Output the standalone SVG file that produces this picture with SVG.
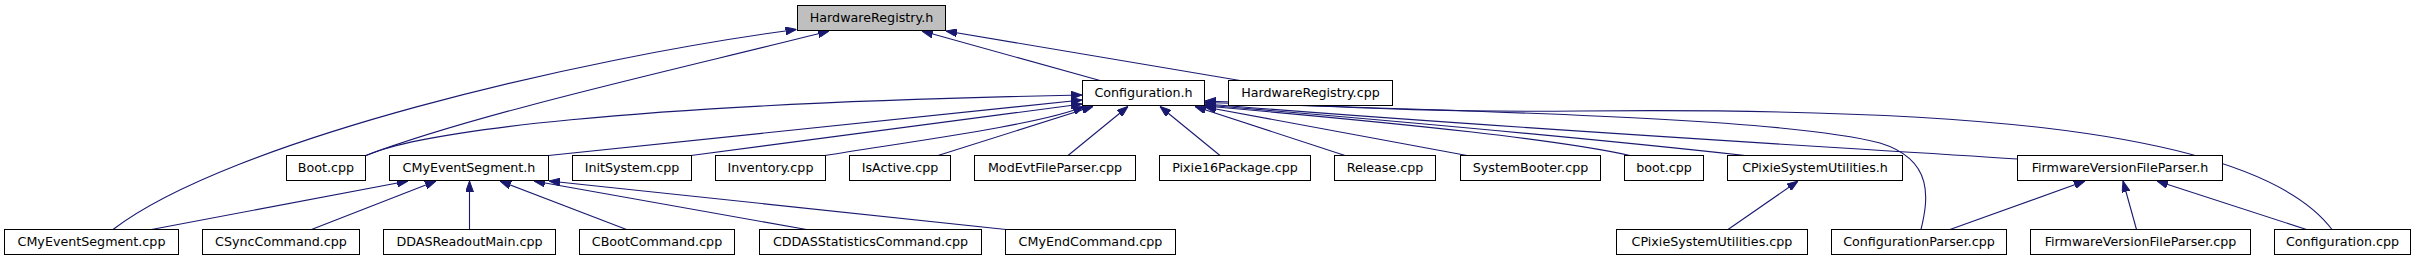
<svg xmlns="http://www.w3.org/2000/svg" width="2416" height="261" viewBox="0 0 2416 261">
<style>
.n rect{fill:#ffffff;stroke:#000000;stroke-width:1}
.n.root rect{fill:#bfbfbf}
.n text{font-family:"DejaVu Sans","Liberation Sans",sans-serif;font-size:12.7px;fill:#000000;text-anchor:middle}
.e path{fill:none;stroke:#191970;stroke-width:1.1;marker-end:url(#ah)}
</style>
<defs>
<marker id="ah" viewBox="0 0 11 8" refX="11" refY="4" markerWidth="11" markerHeight="8" markerUnits="userSpaceOnUse" orient="auto">
<path d="M0,0 L11,4 L0,8 z" fill="#191970" stroke="#191970" stroke-width="1"/>
</marker>
</defs>
<rect x="0" y="0" width="2416" height="261" fill="#ffffff"/>
<g id="edges" class="e">
<path d="M113,229.5 C230,140 580,58 796.5,29.5"/>
<path d="M366,155.5 C480,112 700,64 829,31"/>
<path d="M1100,80.5 L922,31"/>
<path d="M1240,80.5 L946,31"/>
<path d="M366,155.5 C420,132 620,104 1082,95"/>
<path d="M548.5,155.5 L1082,100"/>
<path d="M691,155.5 L1082,104"/>
<path d="M825,155.5 C900,143 1040,125 1084,106.5"/>
<path d="M938,155.5 L1093,106.5"/>
<path d="M1068,155.5 L1128,106.5"/>
<path d="M1220,155.5 L1160,106.5"/>
<path d="M1345,155.5 L1195,106.5"/>
<path d="M1467,155.5 L1205,107"/>
<path d="M1630,155.5 C1560,140 1420,125 1205,106"/>
<path d="M1745,155.5 C1650,145 1480,128 1205,105"/>
<path d="M2017.5,159 C1800,145 1500,128 1205,104"/>
<path d="M1921,229.5 C1928,200 1935,160 1880,143 C1800,122 1600,114 1205,102.5"/>
<path d="M2332,229.5 C2250,120 1900,108 1580,111 C1400,113 1300,104 1205,101"/>
<path d="M151.5,229.5 L408,181"/>
<path d="M311.5,229.5 L436,181"/>
<path d="M469.5,229.5 L469.5,181"/>
<path d="M626.5,229.5 L500,181"/>
<path d="M806.5,229.5 L534,181"/>
<path d="M1006,229.5 L549,181"/>
<path d="M1728,229.5 L1798,181"/>
<path d="M1950,229.5 L2085,181"/>
<path d="M2136.5,229.5 L2123,181"/>
<path d="M2306.5,229.5 L2157,181"/>
</g>
<g id="node0" class="n root"><rect x="797.5" y="5.5" width="148" height="25"/><text x="871.5" y="22.4">HardwareRegistry.h</text></g>
<g id="node1" class="n"><rect x="1082.5" y="80.5" width="122" height="25"/><text x="1143.5" y="97.4">Configuration.h</text></g>
<g id="node2" class="n"><rect x="1228.5" y="80.5" width="164" height="25"/><text x="1310.5" y="97.4">HardwareRegistry.cpp</text></g>
<g id="node3" class="n"><rect x="286.5" y="155.5" width="79" height="25"/><text x="326" y="172.4">Boot.cpp</text></g>
<g id="node4" class="n"><rect x="389.5" y="155.5" width="159" height="25"/><text x="469" y="172.4">CMyEventSegment.h</text></g>
<g id="node5" class="n"><rect x="572.5" y="155.5" width="119" height="25"/><text x="632" y="172.4">InitSystem.cpp</text></g>
<g id="node6" class="n"><rect x="715.5" y="155.5" width="110" height="25"/><text x="770.5" y="172.4">Inventory.cpp</text></g>
<g id="node7" class="n"><rect x="849.5" y="155.5" width="101" height="25"/><text x="900" y="172.4">IsActive.cpp</text></g>
<g id="node8" class="n"><rect x="974.5" y="155.5" width="161" height="25"/><text x="1055" y="172.4">ModEvtFileParser.cpp</text></g>
<g id="node9" class="n"><rect x="1159.5" y="155.5" width="151" height="25"/><text x="1235" y="172.4">Pixie16Package.cpp</text></g>
<g id="node10" class="n"><rect x="1334.5" y="155.5" width="101" height="25"/><text x="1385" y="172.4">Release.cpp</text></g>
<g id="node11" class="n"><rect x="1460.5" y="155.5" width="140" height="25"/><text x="1530.5" y="172.4">SystemBooter.cpp</text></g>
<g id="node12" class="n"><rect x="1624.5" y="155.5" width="79" height="25"/><text x="1664" y="172.4">boot.cpp</text></g>
<g id="node13" class="n"><rect x="1727.5" y="155.5" width="175" height="25"/><text x="1815" y="172.4">CPixieSystemUtilities.h</text></g>
<g id="node14" class="n"><rect x="2017.5" y="155.5" width="205" height="25"/><text x="2120" y="172.4">FirmwareVersionFileParser.h</text></g>
<g id="node15" class="n"><rect x="4.5" y="229.5" width="174" height="25"/><text x="91.5" y="246.4">CMyEventSegment.cpp</text></g>
<g id="node16" class="n"><rect x="202.5" y="229.5" width="157" height="25"/><text x="281" y="246.4">CSyncCommand.cpp</text></g>
<g id="node17" class="n"><rect x="383.5" y="229.5" width="172" height="25"/><text x="469.5" y="246.4">DDASReadoutMain.cpp</text></g>
<g id="node18" class="n"><rect x="579.5" y="229.5" width="155" height="25"/><text x="657" y="246.4">CBootCommand.cpp</text></g>
<g id="node19" class="n"><rect x="759.5" y="229.5" width="222" height="25"/><text x="870.5" y="246.4">CDDASStatisticsCommand.cpp</text></g>
<g id="node20" class="n"><rect x="1005.5" y="229.5" width="170" height="25"/><text x="1090.5" y="246.4">CMyEndCommand.cpp</text></g>
<g id="node21" class="n"><rect x="1616.5" y="229.5" width="191" height="25"/><text x="1712" y="246.4">CPixieSystemUtilities.cpp</text></g>
<g id="node22" class="n"><rect x="1831.5" y="229.5" width="175" height="25"/><text x="1919" y="246.4">ConfigurationParser.cpp</text></g>
<g id="node23" class="n"><rect x="2030.5" y="229.5" width="220" height="25"/><text x="2140.5" y="246.4">FirmwareVersionFileParser.cpp</text></g>
<g id="node24" class="n"><rect x="2274.5" y="229.5" width="136" height="25"/><text x="2342.5" y="246.4">Configuration.cpp</text></g>
</svg>
